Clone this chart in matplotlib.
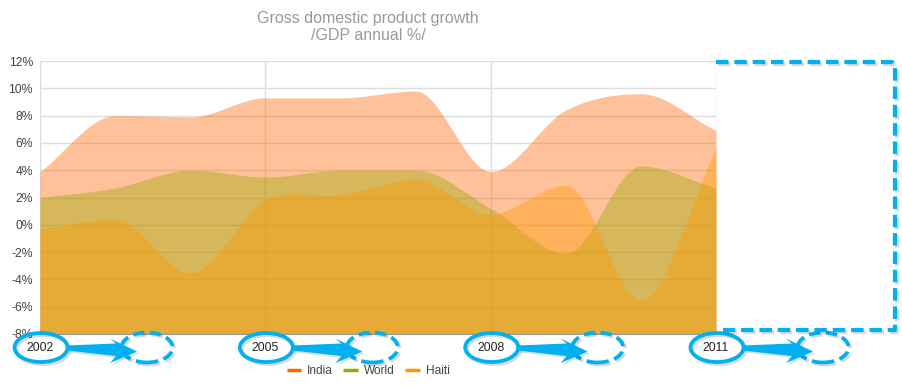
import numpy as np
import matplotlib
matplotlib.use("Agg")
import matplotlib.pyplot as plt
from matplotlib.patches import Ellipse, Polygon
from matplotlib.lines import Line2D
import matplotlib.patheffects as pe

plt.rcParams['font.family'] = ['Liberation Sans', 'DejaVu Sans']

years = [2002, 2003, 2004, 2005, 2006, 2007, 2008, 2009, 2010, 2011]
india = [3.9, 8.0, 7.9, 9.3, 9.3, 9.8, 3.9, 8.4, 9.6, 6.9]
world = [2.0, 2.7, 4.0, 3.5, 4.0, 4.0, 1.2, -2.1, 4.3, 2.7]
haiti = [-0.3, 0.4, -3.5, 1.8, 2.2, 3.3, 0.8, 2.9, -5.5, 5.6]
names = ["India", "World", "Haiti"]
colors = ["#ff6600", "#99aa00", "#ff9900"]
xticks = [2002, 2005, 2008, 2011]
yticks = list(range(-8, 13, 2))

BLUE = "#00b0f0"


def smooth(xs, ys, n=40):
    # cubic hermite curve through the points, flat at local peaks/dips
    xs = np.asarray(xs, float)
    ys = np.asarray(ys, float)
    d = np.diff(ys) / np.diff(xs)
    m = np.zeros_like(ys)
    for i in range(1, len(ys) - 1):
        if d[i - 1] * d[i] > 0:
            m[i] = (d[i - 1] + d[i]) / 2
    m[0] = d[0]
    m[-1] = d[-1]
    outx, outy = [], []
    for i in range(len(xs) - 1):
        h = xs[i + 1] - xs[i]
        t = np.linspace(0, 1, n, endpoint=False)
        h00 = 2 * t**3 - 3 * t**2 + 1
        h10 = t**3 - 2 * t**2 + t
        h01 = -2 * t**3 + 3 * t**2
        h11 = t**3 - t**2
        outx.append(xs[i] + t * h)
        outy.append(h00 * ys[i] + h10 * h * m[i] + h01 * ys[i + 1] + h11 * h * m[i + 1])
    outx.append([xs[-1]])
    outy.append([ys[-1]])
    return np.concatenate(outx), np.concatenate(outy)


W, H = 903, 389
fig = plt.figure(figsize=(W / 100, H / 100), dpi=100)
ax = fig.add_axes([40 / W, 1 - 334 / H, 676 / W, 273 / H])

for vals, c in zip([india, world, haiti], colors):
    sx, sy = smooth(years, vals)
    ax.fill_between(sx, sy, -8, color=c, alpha=0.4, lw=0, zorder=2)

ax.set_xlim(2002, 2011)
ax.set_ylim(-8, 12)
ax.set_xticks(xticks)
ax.set_xticklabels([str(v) for v in xticks])
ax.set_yticks(yticks)
ax.set_yticklabels([f"{v}%" for v in yticks])
ax.set_axisbelow(True)
ax.grid(True, color="#dddddd", lw=1)
ax.tick_params(length=0, labelsize=8.8, colors="#222222")
ax.tick_params(axis="y", pad=5, colors="#444444")
ax.tick_params(axis="x", pad=6)
for s in ["top", "left", "right"]:
    ax.spines[s].set_visible(False)
ax.spines["bottom"].set_color("#999999")
ax.spines["bottom"].set_zorder(3)

fig.text(368 / W, 1 - 27 / H, "Gross domestic product growth\n/GDP annual %/",
         ha="center", va="center", fontsize=11.5, color="#999999", linespacing=1.2)

handles = [Line2D([], [], color=c, lw=2.5, solid_capstyle="butt") for c in colors]
fig.legend(handles, names, loc="center", bbox_to_anchor=(368 / W, 1 - 371 / H),
           ncol=3, frameon=False, fontsize=8.6, handlelength=1.2, handletextpad=0.5,
           columnspacing=0.9, labelcolor="#444444")


# ---- blue annotation overlay (pixel coordinates) ----
def fx(x):
    return x / W


def fy(y):
    return 1 - y / H


shadow = [pe.Stroke(offset=(1.5, -1.5), foreground="black", alpha=0.15), pe.Normal()]
fshadow = [pe.SimplePatchShadow(offset=(1.5, -1.5), alpha=0.15), pe.Normal()]

fig.canvas.draw()
for yr in xticks:
    tx = ax.transData.transform((yr, 0))[0]
    sx = tx + 1
    dx = tx + 107
    cy = 347.5
    e1 = Ellipse((fx(sx), fy(cy)), 53 / W, 29 / H, transform=fig.transFigure,
                 fill=False, ec=BLUE, lw=2.7, path_effects=shadow, zorder=10)
    fig.add_artist(e1)
    e2 = Ellipse((fx(dx), fy(cy)), 51 / W, 30 / H, transform=fig.transFigure,
                 fill=False, ec=BLUE, lw=2.7, ls=(0, (3.0, 1.5)), path_effects=shadow, zorder=10)
    fig.add_artist(e2)
    x0 = sx + 26
    tip = dx - 10
    hb = tip - 27
    pts = [(x0, 345.5), (hb + 6, 343.5), (hb, 338.5), (tip, 351.5),
           (hb, 363.0), (hb + 6, 356.0), (x0, 350.5)]
    arrow = Polygon([(fx(a), fy(b)) for a, b in pts], closed=True, transform=fig.transFigure,
                    fc=BLUE, ec="none", path_effects=fshadow, zorder=11)
    fig.add_artist(arrow)

bx = [716, 892, 895, 895, 723]
by = [62, 62, 65, 330, 330]
bracket = Line2D([fx(v) for v in bx], [fy(v) for v in by], transform=fig.transFigure,
                 color=BLUE, lw=3, ls=(0, (3.0, 1.4)), path_effects=shadow, zorder=10)
fig.add_artist(bracket)

fig.savefig("out.png", dpi=100)
